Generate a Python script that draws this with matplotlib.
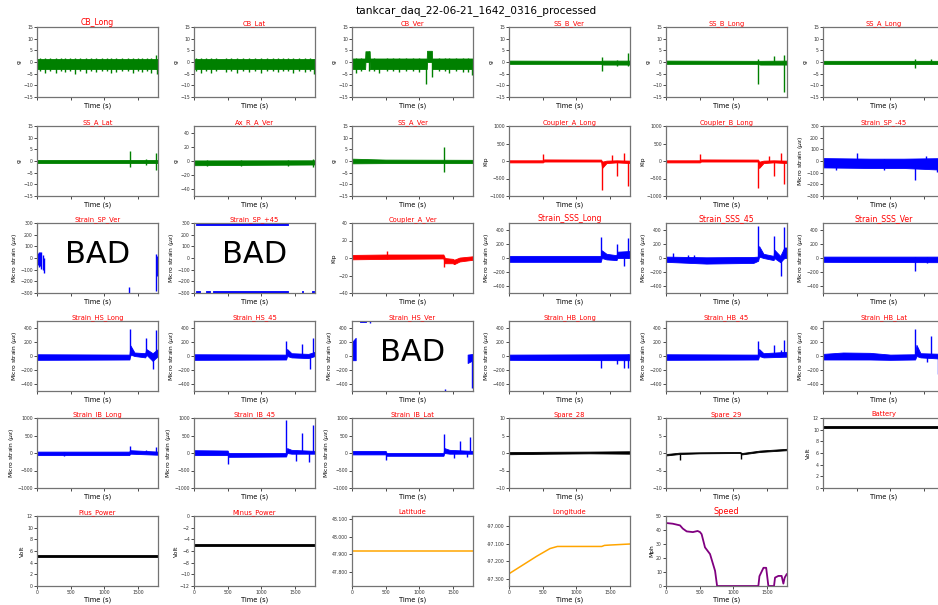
import matplotlib
matplotlib.use("Agg")
import matplotlib.pyplot as plt
from matplotlib.ticker import MultipleLocator, FormatStrFormatter

# canais na ordem do painel (6 x 6, o ultimo fica vazio)
titulos = ['CB_Long', 'CB_Lat', 'CB_Ver', 'SS_B_Ver', 'SS_B_Long', 'SS_A_Long',
           'SS_A_Lat', 'Ax_R_A_Ver', 'SS_A_Ver', 'Coupler_A_Long', 'Coupler_B_Long', 'Strain_SP_-45',
           'Strain_SP_Ver', 'Strain_SP_+45', 'Coupler_A_Ver', 'Strain_SSS_Long', 'Strain_SSS_45', 'Strain_SSS_Ver',
           'Strain_HS_Long', 'Strain_HS_45', 'Strain_HS_Ver', 'Strain_HB_Long', 'Strain_HB_45', 'Strain_HB_Lat',
           'Strain_IB_Long', 'Strain_IB_45', 'Strain_IB_Lat', 'Spare_28', 'Spare_29', 'Battery',
           'Plus_Power', 'Minus_Power', 'Latitude', 'Longitude', 'Speed']

MS = 'Micro strain ($\\mu\\epsilon$)'
unidades = ['g'] * 9 + ['Kip', 'Kip', MS, MS, MS, 'Kip'] + [MS] * 12 + ['', '', 'Volt', 'Volt', 'Volt', '', '', 'Mph']

cores = ['green'] * 9 + ['red', 'red', 'blue', 'blue', 'blue', 'red'] + ['blue'] * 12 + \
        ['black', 'black', 'black', 'black', 'black', 'orange', 'orange', 'purple']

limites = [(-15, 15)] * 7 + [(-50, 50), (-15, 15), (-1000, 1000), (-1000, 1000), (-300, 300),
           (-300, 300), (-300, 300), (-40, 40)] + [(-500, 500)] * 9 + [(-1000, 1000)] * 3 + \
          [(-10, 10), (-10, 10), (0, 12), (0, 12), (-12, 0), (47.72, 48.12), (-97.34, -96.94), (0, 50)]

passos = [5] * 7 + [20, 5, 500, 500, 100, 100, 100, 20] + [200] * 9 + [500] * 3 + \
         [5, 5, 2, 2, 2, 0.1, 0.1, 10]

tam_titulo = [5.6] + [4.9] * 14 + [5.6, 5.6, 5.6] + [4.9] * 16 + [5.9]

bad = ['Strain_SP_Ver', 'Strain_SP_+45', 'Strain_HS_Ver']

# faixas de ruido: lista de segmentos, cada segmento = [(t, minimo, maximo), ...]
faixas = [
    [[(0, -3.1, 1.5), (1800, -3.1, 1.5)]],
    [[(0, -3.1, 1.5), (1800, -3.1, 1.5)]],
    [[(0, -3, 1.5), (195, -3, 1.5), (200, 0, 4.6), (262, 0, 4.6), (266, -3, 1.5), (1112, -3, 1.5),
      (1116, 0, 4.8), (1188, 0, 4.8), (1192, -3, 1.5), (1800, -3, 1.5)]],
    [[(0, -0.8, 0.6), (1370, -0.8, 0.5), (1400, -1.1, 0.6), (1800, -1.1, 0.6)]],
    [[(0, -0.8, 0.6), (1370, -0.8, 0.5), (1400, -1.1, 0.5), (1800, -1.1, 0.6)]],
    [[(0, -0.8, 0.5), (1800, -0.9, 0.5)]],
    [[(0, -1, 0.5), (1800, -1, 0.5)]],
    [[(0, -6, 0.8), (1800, -5, 1)]],
    [[(0, -1, 1), (500, -0.9, 0.6), (1800, -0.9, 0.5)]],
    [[(0, -40, 20), (505, -40, 20), (520, -15, 45), (1370, -15, 40), (1385, -200, -20), (1450, -60, 10),
      (1600, -40, 20), (1800, -60, 10)]],
    [[(0, -40, 20), (505, -40, 20), (520, -15, 45), (1370, -15, 40), (1385, -200, -20), (1450, -60, 10),
      (1600, -40, 20), (1800, -60, 10)]],
    [[(0, -55, 25), (700, -60, 20), (1200, -60, 20), (1800, -75, 25)]],
    [],
    [[(25, 282, 300), (1400, 282, 300)], [(25, -300, -282), (84, -300, -282)],
     [(183, -300, -282), (233, -300, -282)], [(283, -300, -282), (1399, -300, -282)],
     [(1600, -300, -282), (1625, -300, -282)], [(1760, -300, -282), (1785, -300, -282)]],
    [[(0, -1.5, 3.5), (500, -1, 4), (1360, -0.5, 4), (1380, -6, 0), (1500, -6, -1), (1520, -7, -2),
      (1600, -4, 0.5), (1800, -2, 2)]],
    [[(0, -55, 30), (1365, -55, 30), (1380, 0, 110), (1450, -20, 60), (1600, -30, 40),
      (1610, 0, 90), (1800, 0, 100)]],
    [[(0, -55, 20), (600, -80, 10), (1300, -70, 15), (1370, -40, 20), (1385, 20, 170), (1450, 0, 60),
      (1600, -30, 30), (1610, 0, 120), (1700, -60, 30), (1760, 0, 150), (1800, 0, 150)]],
    [[(0, -55, 20), (1800, -60, 20)]],
    [[(0, -55, 25), (1375, -50, 20), (1390, 20, 150), (1450, 0, 50), (1610, -20, 40), (1625, 20, 100),
      (1720, -70, 40), (1800, 0, 100)]],
    [[(0, -55, 25), (1370, -50, 20), (1385, 0, 100), (1450, -20, 40), (1700, -30, 30), (1800, 0, 60)]],
    [[(0, -60, 200), (55, -60, 260)], [(120, 480, 500), (210, 480, 500)], [(1720, -100, 20), (1800, -60, 30)]],
    [[(0, -55, 20), (1800, -60, 25)]],
    [[(0, -55, 25), (1370, -50, 20), (1385, 0, 100), (1450, -20, 40), (1800, -10, 60)]],
    [[(0, -50, 30), (300, -50, 50), (700, -50, 45), (1000, -55, 20), (1370, -50, 25), (1390, 0, 160),
      (1450, -20, 40), (1800, -40, 30)]],
    [[(0, -60, 40), (1370, -60, 40), (1390, -20, 80), (1800, -50, 40)]],
    [[(0, -60, 80), (500, -60, 70), (515, -110, 0), (1370, -100, 0), (1385, 0, 140), (1450, -20, 90),
      (1800, -20, 60)]],
    [[(0, -40, 60), (500, -40, 60), (515, -80, 0), (1360, -80, 0), (1375, 0, 140), (1450, -20, 90),
      (1800, -20, 60)]],
    [[(0, -0.35, 0.25), (600, -0.2, 0.35), (1200, -0.1, 0.4), (1800, -0.2, 0.5)]],
    [[(0, -0.7, -0.3), (200, -0.3, 0.1), (500, -0.1, 0.2), (1100, 0, 0.3), (1130, -0.4, 0),
      (1400, 0.3, 0.7), (1800, 0.8, 1.2)]],
    [[(0, 10.25, 10.6), (1800, 10.25, 10.6)]],
    [[(0, 4.95, 5.3), (1800, 4.95, 5.3)]],
    [[(0, -5.15, -4.85), (1800, -5.15, -4.85)]],
    [], [], [],
]

# picos: (t, minimo, maximo)
picos = [
    [(40, -3.8, 1.8), (115, -4.6, 1.6), (200, -3.9, 1.7), (290, -4.8, 1.8), (350, -4, 1.9), (420, -4.3, 1.6),
     (490, -3.8, 1.7), (560, -5, 1.6), (640, -4, 1.8), (735, -4.5, 1.8), (800, -3.9, 1.6), (880, -4.3, 1.7),
     (960, -4, 1.9), (1040, -3.8, 1.7), (1105, -4.9, 1.8), (1180, -4.4, 1.6), (1270, -3.9, 1.8),
     (1350, -4, 1.7), (1430, -4.6, 1.8), (1500, -3.8, 1.9), (1560, -4.2, 1.7), (1630, -4, 1.6),
     (1700, -4.8, 1.7), (1765, -3, 3), (1790, -5, 1.5)],
    [(30, -3.9, 1.8), (100, -4.5, 1.7), (180, -4, 1.8), (260, -4.8, 1.6), (330, -3.8, 1.9), (470, -4.2, 1.8),
     (550, -4, 1.7), (640, -4.6, 1.6), (730, -3.9, 1.8), (820, -4.3, 1.7), (910, -4, 1.9), (1000, -4.9, 1.6),
     (1090, -4, 1.7), (1170, -3.8, 1.8), (1250, -4.4, 1.8), (1330, -4, 1.6), (1400, -3.8, 1.9),
     (1480, -4.6, 1.6), (1560, -4, 1.7), (1650, -4.3, 1.8), (1720, -4, 1.7), (1790, -5.2, 1.5)],
    [(60, -4.5, 1.6), (140, -4, 1.8), (250, -4, 4.6), (330, -3.8, 1.7), (400, -4.5, 1.5), (520, -4, 1.8),
     (610, -3.8, 1.7), (700, -4.4, 1.6), (800, -4, 1.8), (900, -3.9, 1.7), (1000, -4.2, 1.7),
     (1108, -9.6, 1.5), (1195, -6.5, 1.5), (1300, -4, 1.8), (1380, -3.8, 1.7), (1450, -4.6, 1.7),
     (1550, -4, 1.8), (1650, -4.2, 1.7), (1720, -4.4, 1.6), (1790, -5.5, 1.5)],
    [(1380, -4, 2), (1600, -1.5, 1), (1765, -1.5, 3.8)],
    [(1375, -9.5, 1.5), (1607, -1, 2.5), (1760, -13, 3)],
    [(1375, -2.5, 1.5), (1610, -1, 1.5)],
    [(1380, -2.5, 4.5), (1617, -1.5, 1), (1765, -4, 3.5)],
    [(200, -7, 1), (700, -7, 1), (1400, -6.5, 1.5), (1770, -9, 3)],
    [(1370, -4.5, 6)],
    [(510, 0, 210), (1378, -840, 0), (1530, 0, 180), (1610, -420, 0), (1710, 0, 240), (1765, -700, 0)],
    [(506, 0, 200), (1374, -780, 0), (1528, 0, 150), (1612, -430, 0), (1710, 0, 230), (1760, -650, 0)],
    [(200, -80, 20), (505, -40, 65), (900, -80, 20), (1375, -165, 20), (1538, -60, 40), (1700, -90, 20)],
    [(10, -60, 40), (25, -80, 55), (45, -70, 55), (65, -90, 50), (85, -100, 30), (105, -130, 0),
     (1370, -300, -250), (1765, -280, 35), (1780, -150, 20), (1795, -140, -30)],
    [],
    [(520, -1, 8), (1374, -10, 2), (1515, -7, -2)],
    [(1370, 0, 305), (1607, 0, 200), (1710, -120, 0), (1765, 0, 280)],
    [(100, -40, 70), (330, -40, 50), (420, -40, 40), (1374, 0, 460), (1607, 0, 320), (1710, -250, 0),
     (1760, 0, 440)],
    [(1375, -180, 20), (1550, -70, 20)],
    [(1380, 0, 380), (1617, 0, 260), (1725, -190, 0), (1765, 0, 370)],
    [(1374, 0, 220), (1612, 0, 170), (1721, -180, 0), (1770, 0, 260)],
    [(268, 470, 500), (1380, -500, -470), (1780, -450, 0)],
    [(1370, -170, 20), (1600, -120, 20), (1710, -170, 20), (1765, -170, 30)],
    [(1374, 0, 220), (1607, 0, 160), (1710, 0, 80), (1760, 0, 230)],
    [(1375, 0, 390), (1540, -80, 20), (1610, 0, 290), (1706, -250, 0)],
    [(400, -80, 40), (1380, 0, 200), (1617, 0, 100), (1765, 0, 170)],
    [(506, -300, 0), (1374, 0, 950), (1523, -220, 0), (1612, 0, 570), (1711, -250, 0), (1770, 0, 800)],
    [(511, -200, 0), (1364, 0, 540), (1523, -130, 0), (1612, 0, 330), (1711, -120, 0), (1760, 0, 470)],
    [],
    [(208, -2, -0.2), (1111, -1.8, 0)],
    [], [], [], [], [], [],
]

# series continuas
lon_t = [0, 412, 610, 720, 1380, 1420, 1500, 1800]
lon_v = [-97.27, -97.17, -97.126, -97.114, -97.114, -97.108, -97.106, -97.10]
lat_t = [0, 1800]
lat_v = [47.92, 47.92]
vel_t = [0, 100, 208, 250, 308, 400, 470, 506, 530, 580, 655, 730, 760, 1374, 1390, 1450, 1490,
         1523, 1607, 1622, 1672, 1720, 1746, 1766, 1795]
vel_v = [45, 44.5, 43.3, 41, 39, 38.5, 39.3, 38.5, 37, 27.6, 22.8, 10.8, 0, 0, 7, 13, 13,
         0, 0, 6, 7.2, 7.2, 1.7, 6, 8.4]

fig = plt.figure(figsize=(9.38, 6.05), dpi=100)
W, H = 938.0, 605.0
esquerdas = [37, 194, 352, 509, 666, 823]
topos = [27, 126, 223, 321, 418, 516]
lw_ax, lh_ax = 121, 70

for i, nome in enumerate(titulos):
    lin, col = divmod(i, 6)
    ax = fig.add_axes([esquerdas[col] / W, 1 - (topos[lin] + lh_ax) / H, lw_ax / W, lh_ax / H])
    c = cores[i]
    for seg in faixas[i]:
        t = [p[0] for p in seg]
        ax.fill_between(t, [p[1] for p in seg], [p[2] for p in seg], color=c, lw=0.6)
    for t, lo, hi in picos[i]:
        ax.vlines(t, lo, hi, color=c, lw=1.0)
    if nome == 'Latitude':
        ax.plot(lat_t, lat_v, color=c, lw=1.1)
    elif nome == 'Longitude':
        ax.plot(lon_t, lon_v, color=c, lw=1.1)
    elif nome == 'Speed':
        ax.plot(vel_t, vel_v, color=c, lw=1.3)
    if nome in bad:
        ax.text(0.5, 0.55, 'BAD', transform=ax.transAxes, ha='center', va='center', fontsize=22)

    ax.set_xlim(0, 1800)
    ax.set_ylim(*limites[i])
    ax.xaxis.set_major_locator(MultipleLocator(500))
    ax.yaxis.set_major_locator(MultipleLocator(passos[i]))
    if nome in ('Latitude', 'Longitude'):
        ax.yaxis.set_major_formatter(FormatStrFormatter('%.3f'))
    if lin < 5:
        ax.set_xticklabels([])
    ax.tick_params(labelsize=3.3, length=2, width=0.5, pad=1, labelcolor='0.2')
    for s in ax.spines.values():
        s.set_linewidth(0.9)
        s.set_color('0.45')
    ax.set_title(nome, color='red', fontsize=tam_titulo[i], pad=1.5)
    ax.set_xlabel('Time (s)', fontsize=4.8, labelpad=1)
    if unidades[i]:
        ax.set_ylabel(unidades[i], fontsize=4.3, labelpad=1)

fig.text(476 / W, 1 - 11 / H, 'tankcar_daq_22-06-21_1642_0316_processed', ha='center', va='center', fontsize=7.6)
fig.savefig('out.png', dpi=100)
plt.close(fig)
